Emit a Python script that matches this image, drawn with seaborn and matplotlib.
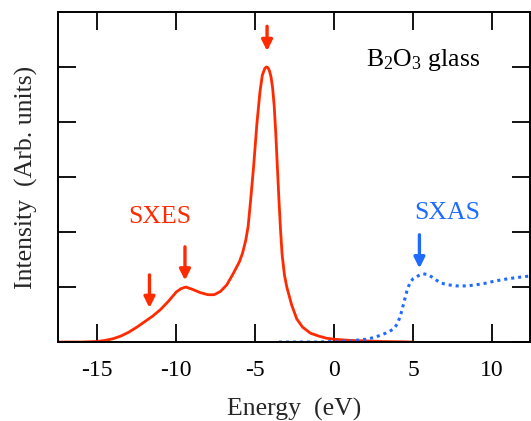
import matplotlib
matplotlib.use("Agg")
import matplotlib.pyplot as plt
import seaborn as sns
import pandas as pd

# SXES (emission) spectrum
sxes_energy = [-17.5, -16.0, -15.0, -14.5, -14.0, -13.5, -13.0, -12.5, -12.0, -11.5,
               -11.0, -10.5, -10.0, -9.7, -9.4, -9.0, -8.5, -8.0, -7.6, -7.2,
               -6.8, -6.4, -6.0, -5.8, -5.6, -5.45, -5.3, -5.1, -4.9, -4.7,
               -4.55, -4.4, -4.3, -4.2, -4.1, -4.0, -3.9, -3.8, -3.7, -3.6,
               -3.5, -3.4, -3.3, -3.15, -3.0, -2.7, -2.37, -2.0, -1.5, -1.0,
               -0.5, 0.0, 1.0, 2.0, 3.0, 4.0, 5.0]
sxes_int = [0.0, 0.0, 0.01, 0.03, 0.06, 0.11, 0.18, 0.27, 0.37, 0.47,
            0.59, 0.74, 0.91, 0.97, 1.0, 0.96, 0.90, 0.86, 0.86, 0.92,
            1.04, 1.24, 1.46, 1.62, 1.85, 2.1, 2.55, 3.2, 3.95, 4.55,
            4.85, 4.97, 5.0, 4.99, 4.93, 4.82, 4.62, 4.3, 3.8, 3.2,
            2.6, 2.05, 1.6, 1.22, 1.0, 0.68, 0.42, 0.27, 0.16, 0.11,
            0.07, 0.05, 0.03, 0.02, 0.01, 0.005, 0.0]

# SXAS (absorption) spectrum
sxas_energy = [-3.5, -2.0, -1.0, 0.0, 1.0, 2.0, 2.5, 3.0, 3.5, 3.8,
               4.0, 4.2, 4.4, 4.6, 4.8, 5.0, 5.3, 5.6, 5.9, 6.2,
               6.5, 6.8, 7.2, 7.8, 8.4, 9.0, 9.6, 10.2, 10.8, 11.5, 12.4]
sxas_int = [0.0, 0.0, 0.0, 0.01, 0.02, 0.05, 0.08, 0.13, 0.19, 0.25,
            0.33, 0.48, 0.70, 0.92, 1.08, 1.15, 1.20, 1.24, 1.23, 1.18,
            1.12, 1.07, 1.04, 1.02, 1.02, 1.04, 1.07, 1.11, 1.14, 1.17, 1.20]

# arrows: (x, y_start, y_end)
red_arrows_x = [-11.7, -9.45, -4.25]
red_arrows_top = [1.22, 1.73, 5.74]
red_arrows_tip = [0.62, 1.12, 5.29]
blue_arrows_x = [5.4]
blue_arrows_top = [1.95]
blue_arrows_tip = [1.34]

x_ticks = [-15, -10, -5, 0, 5, 10]
x_tick_labels = ["-15", "-10", "-5", "0", "5", "10"]
y_ticks = [0, 1, 2, 3, 4, 5]

RED = "#FF2A00"
BLUE = "#1F6BFF"

sns.set_theme(style="ticks")
plt.rcParams["font.family"] = ["Liberation Serif", "DejaVu Serif"]
plt.rcParams["mathtext.fontset"] = "custom"
plt.rcParams["mathtext.rm"] = "Liberation Serif"
plt.rcParams["mathtext.it"] = "Liberation Serif:italic"

fig = plt.figure(figsize=(5.31, 4.21), dpi=100)
ax = fig.add_axes([0.109, 0.1876, 0.889, 0.784])

df_es = pd.DataFrame({"E": sxes_energy, "I": sxes_int})
df_as = pd.DataFrame({"E": sxas_energy, "I": sxas_int})

sns.lineplot(data=df_es, x="E", y="I", ax=ax, color=RED, lw=2.0, sort=False)
sns.lineplot(data=df_as, x="E", y="I", ax=ax, color=BLUE, lw=2.2, sort=False,
             linestyle=(0, (1.0, 1.3)))

for x, y0, y1 in zip(red_arrows_x, red_arrows_top, red_arrows_tip):
    ax.annotate("", xy=(x, y1), xytext=(x, y0),
                arrowprops=dict(arrowstyle="-|>", color=RED, lw=2.4,
                                mutation_scale=16, shrinkA=0, shrinkB=0))
for x, y0, y1 in zip(blue_arrows_x, blue_arrows_top, blue_arrows_tip):
    ax.annotate("", xy=(x, y1), xytext=(x, y0),
                arrowprops=dict(arrowstyle="-|>", color=BLUE, lw=2.4,
                                mutation_scale=16, shrinkA=0, shrinkB=0))

ax.text(-11.05, 2.27, "SXES", color=RED, fontsize=18.5, ha="center", va="center")
ax.text(7.15, 2.34, "SXAS", color=BLUE, fontsize=18.5, ha="center", va="center")
ax.text(5.65, 5.13, "B$_2$O$_3$ glass", color="black", fontsize=18.5, ha="center", va="center")

ax.set_xlim(-17.5, 12.4)
ax.set_ylim(0, 6)
ax.set_xticks(x_ticks)
ax.set_xticklabels(x_tick_labels)
ax.set_yticks(y_ticks)
ax.set_yticklabels([])
ax.tick_params(direction="in", length=13, width=1.3, top=True, right=True,
               labelsize=17, pad=13, colors="black")
for s in ax.spines.values():
    s.set_linewidth(1.4)
    s.set_color("black")

ax.set_xlabel("Energy  (eV)", fontsize=18.5, labelpad=12)
ax.set_ylabel("Intensity  (Arb. units)", fontsize=18.5, labelpad=1)

fig.savefig("out.png", dpi=100)
